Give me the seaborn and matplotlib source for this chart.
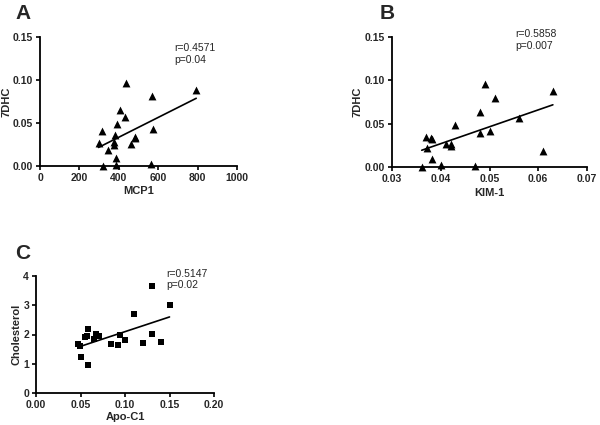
import numpy as np
import pandas as pd
import seaborn as sns
import matplotlib.pyplot as plt

sns.set_style('ticks')
plt.rcParams['font.family'] = ['Liberation Sans', 'DejaVu Sans']

# panel A: MCP1 vs 7DHC
mcp1 = [297, 314, 319, 346, 376, 378, 381, 385, 388, 393,
        408, 432, 437, 461, 481, 483, 563, 571, 575, 793]
dhc_a = [0.027, 0.041, 0.000, 0.019, 0.024, 0.028, 0.036, 0.009, 0.001, 0.049,
         0.065, 0.057, 0.097, 0.026, 0.034, 0.032, 0.002, 0.081, 0.043, 0.088]

# panel B: KIM-1 vs 7DHC
kim1 = [0.0361, 0.0370, 0.0371, 0.0380, 0.0382, 0.0382, 0.0401, 0.0410, 0.0421, 0.0421,
        0.0430, 0.0471, 0.0481, 0.0481, 0.0491, 0.0500, 0.0511, 0.0560, 0.0610, 0.0630]
dhc_b = [0.000, 0.035, 0.022, 0.034, 0.032, 0.009, 0.002, 0.027, 0.026, 0.024,
         0.049, 0.001, 0.039, 0.064, 0.096, 0.042, 0.080, 0.057, 0.019, 0.088]

# panel C: Apo-C1 vs cholesterol
apoc1 = [0.0477, 0.0499, 0.0507, 0.0552, 0.0578, 0.0582, 0.0589, 0.0657, 0.0675, 0.0705,
         0.0848, 0.0916, 0.0946, 0.0998, 0.110, 0.120, 0.130, 0.130, 0.140, 0.150]
chol = [1.67, 1.59, 1.23, 1.90, 1.95, 0.97, 2.20, 1.86, 2.02, 1.94,
        1.67, 1.64, 1.98, 1.81, 2.70, 1.70, 2.02, 3.67, 1.73, 3.01]

fig = plt.figure(figsize=(6, 4.25), dpi=100)
W, H = 600, 425


def make_ax(left, top, right, bottom):
    return fig.add_axes([left / W, 1 - bottom / H, (right - left) / W, (bottom - top) / H])


def panel(ax, x, y, marker, size, xlabel, ylabel, xlim, ylim, xticks, yticks,
          xfmt, yfmt, stats, stat_pos, ylab_x, xlab_y):
    df = pd.DataFrame({'x': x, 'y': y})
    sns.regplot(data=df, x='x', y='y', ax=ax, ci=None, marker=marker,
                scatter_kws={'s': size, 'color': 'black', 'alpha': 1,
                             'clip_on': False, 'linewidths': 0},
                line_kws={'color': 'black', 'lw': 1.2})
    ax.set_xlim(xlim)
    ax.set_ylim(ylim)
    ax.set_xticks(xticks)
    ax.set_yticks(yticks)
    ax.set_xticklabels([xfmt.format(v) for v in xticks], fontsize=7.5, fontweight='bold')
    ax.set_yticklabels([yfmt.format(v) for v in yticks], fontsize=7.5, fontweight='bold')
    ax.set_xlabel(xlabel, fontsize=8, fontweight='bold')
    ax.set_ylabel(ylabel, fontsize=8, fontweight='bold')
    ax.yaxis.set_label_coords(ylab_x, 0.5)
    ax.xaxis.set_label_coords(0.5, xlab_y)
    ax.tick_params(length=3, width=1.2, pad=2, color='black')
    for s in ['left', 'bottom']:
        ax.spines[s].set_linewidth(1.3)
        ax.spines[s].set_color('black')
    sns.despine(ax=ax)
    ax.text(stat_pos[0], stat_pos[1], stats, fontsize=7.5, va='top', ha='left',
            linespacing=1.2)


axA = make_ax(40, 37, 237, 166)
panel(axA, mcp1, dhc_a, '^', 32, 'MCP1', '7DHC', (0, 1000), (0, 0.15),
      [0, 200, 400, 600, 800, 1000], [0, 0.05, 0.10, 0.15], '{:.0f}', '{:.2f}',
      'r=0.4571\np=0.04', (680, 0.143), -0.147, -0.155)

axB = make_ax(392, 37, 587, 167)
panel(axB, kim1, dhc_b, '^', 32, 'KIM-1', '7DHC', (0.03, 0.07), (0, 0.15),
      [0.03, 0.04, 0.05, 0.06, 0.07], [0, 0.05, 0.10, 0.15], '{:.2f}', '{:.2f}',
      'r=0.5858\np=0.007', (0.0552, 0.159), -0.15, -0.165)

axC = make_ax(36, 276, 214, 393)
panel(axC, apoc1, chol, 's', 24, 'Apo-C1', 'Cholesterol', (0, 0.2), (0, 4),
      [0, 0.05, 0.10, 0.15, 0.20], [0, 1, 2, 3, 4], '{:.2f}', '{:.0f}',
      'r=0.5147\np=0.02', (0.146, 4.25), -0.08, -0.16)

fig.text(15 / W, 1 - 4 / H, 'A', fontsize=15, fontweight='bold', va='top')
fig.text(380 / W, 1 - 4 / H, 'B', fontsize=15, fontweight='bold', va='top')
fig.text(15 / W, 1 - 244 / H, 'C', fontsize=15, fontweight='bold', va='top')

fig.savefig('out.png', dpi=100)
